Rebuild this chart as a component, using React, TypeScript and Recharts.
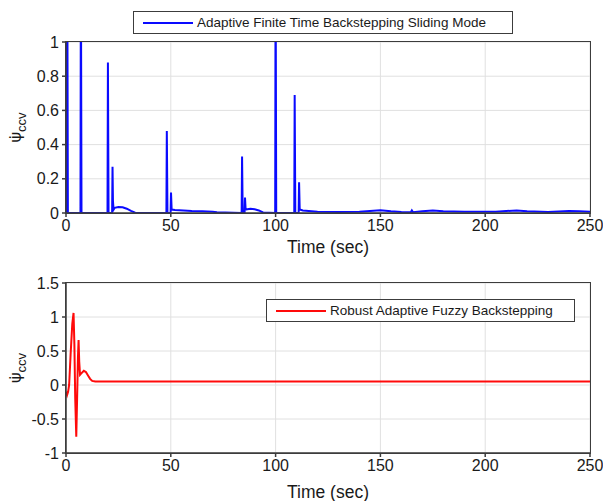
import React from 'react';
import { LineChart, Line, XAxis, YAxis, CartesianGrid, Legend } from 'recharts';

// time (sec) and psi_ccv samples
const afTime = [
  0, 0.6, 0.9, 6.9, 7.1, 7.4, 19.8, 20.0, 20.3, 22.0, 22.2, 22.4, 22.7, 23.2, 25, 27, 29, 31, 33,
  47.9, 48.1, 48.4, 49.9, 50.1, 50.4, 52, 56, 60, 65, 70, 72,
  83.8, 84.0, 84.3, 85.2, 85.4, 85.7, 86.5, 88, 90, 92, 94,
  99.8, 100.0, 100.3, 108.9, 109.1, 109.4, 111.0, 111.2, 111.5, 113, 120, 130, 140, 145, 150, 155,
  160, 164.5, 165, 165.5, 170, 175, 180, 190, 200, 205, 210, 215, 220, 230, 240, 245, 250,
];
const afValue = [
  0, 1.5, 0, 0, 1.5, 0, 0, 0.88, 0, 0, 0.27, 0.07, 0.02, 0.03, 0.035, 0.033, 0.025, 0.012, 0.002,
  0, 0.48, 0, 0, 0.12, 0.02, 0.018, 0.015, 0.012, 0.01, 0.007, 0.004,
  0, 0.33, 0, 0, 0.09, 0.02, 0.022, 0.025, 0.022, 0.015, 0.003,
  0, 1.5, 0, 0, 0.69, 0, 0, 0.18, 0.02, 0.015, 0.008, 0.006, 0.008, 0.012, 0.016, 0.01,
  0.006, 0.004, 0.015, 0.005, 0.01, 0.014, 0.01, 0.007, 0.008, 0.007, 0.012, 0.014, 0.01, 0.006, 0.012, 0.01, 0.008,
];

const rfTime = [0, 0.5, 1, 1.5, 2.2, 3.0, 3.6, 4.0, 4.4, 4.9, 5.3, 5.7, 6.0, 6.3, 6.7, 7.3, 8.5, 9.5, 10.5, 11.5, 12.5, 14, 16, 250];
const rfValue = [-0.1, -0.15, -0.1, 0.0, 0.45, 0.9, 1.06, 0.6, -0.2, -0.76, -0.2, 0.4, 0.66, 0.35, 0.15, 0.17, 0.21, 0.19, 0.14, 0.09, 0.06, 0.05, 0.05, 0.05];

const timeTicks = [0, 50, 100, 150, 200, 250];
const topTicks = [0, 0.2, 0.4, 0.6, 0.8, 1];
const bottomTicks = [-1, -0.5, 0, 0.5, 1, 1.5];

const topName = 'Adaptive Finite Time Backstepping Sliding Mode';
const bottomName = 'Robust Adaptive Fuzzy Backstepping';

const font = '"Liberation Sans", Arial, sans-serif';
const frame = '#3c3c3c';
const gridColor = '#e0e0e0';
const tickStyle = { fontSize: 16, fill: '#1a1a1a', fontFamily: font };

const CHART_W = 603;
const M_LEFT = 26;
const Y_W = 40;
const M_RIGHT = 13;

const afData = afTime.map((t, i) => ({ t, v: afValue[i] }));
const rfData = rfTime.map((t, i) => ({ t, v: rfValue[i] }));

const fmt = (v: number) => String(v);

const YLabel = ({ cx, cy }: { cx: number; cy: number }) => (
  <text
    x={cx}
    y={cy}
    transform={`rotate(-90, ${cx}, ${cy})`}
    textAnchor="middle"
    fontFamily='"DejaVu Sans", sans-serif'
    fill="#1a1a1a"
    fontSize={16}
  >
    {'\u03C8\u0307'}
    <tspan dy={5} fontSize={13} fontFamily={font}>ccv</tspan>
  </text>
);

const LegendBox = ({ color, name, width }: { color: string; name: string; width: number }) => (
  <div
    style={{
      width,
      height: 23,
      boxSizing: 'border-box',
      border: `1px solid ${frame}`,
      background: '#fff',
      display: 'flex',
      alignItems: 'center',
      fontFamily: font,
      fontSize: 13.5,
      color: '#1a1a1a',
      whiteSpace: 'nowrap',
    }}
  >
    <span style={{ display: 'inline-block', width: 50, height: 2, background: color, marginLeft: 9, marginRight: 4 }} />
    {name}
  </div>
);

interface PanelProps {
  data: { t: number; v: number }[];
  color: string;
  name: string;
  yDomain: [number, number];
  yTicks: number[];
  height: number;
  marginTop: number;
  xHeight: number;
  labelOffset: number;
  legendPos: { left: number; top: number; width: number };
}

const Panel = ({ data, color, name, yDomain, yTicks, height, marginTop, xHeight, labelOffset, legendPos }: PanelProps) => {
  const plotH = height - marginTop - xHeight;
  const plotMid = marginTop + plotH / 2;
  const plotL = M_LEFT + Y_W;
  const plotW = CHART_W - M_RIGHT - plotL;
  return (
    <div style={{ position: 'relative', width: CHART_W, height }}>
      <LineChart width={CHART_W} height={height} data={data} margin={{ top: marginTop, right: M_RIGHT, bottom: 0, left: M_LEFT }}>
        <CartesianGrid stroke={gridColor} />
        <XAxis
          dataKey="t"
          type="number"
          domain={[0, 250]}
          ticks={timeTicks}
          tickFormatter={fmt}
          height={xHeight}
          stroke={frame}
          strokeWidth={1.5}
          tickSize={4}
          tickMargin={3}
          tick={tickStyle}
          label={{ value: 'Time (sec)', position: 'insideBottom', offset: labelOffset, fontSize: 17.5, fill: '#1a1a1a', fontFamily: font }}
        />
        <YAxis
          type="number"
          domain={yDomain}
          ticks={yTicks}
          allowDataOverflow
          tickFormatter={fmt}
          width={Y_W}
          stroke={frame}
          strokeWidth={1.5}
          tickSize={4}
          tickMargin={3}
          tick={tickStyle}
          label={{ content: () => <YLabel cx={21} cy={plotMid} /> }}
        />
        <Legend
          layout="horizontal"
          verticalAlign="middle"
          align="center"
          wrapperStyle={{ position: 'absolute', left: legendPos.left, top: legendPos.top, width: legendPos.width }}
          content={() => <LegendBox color={color} name={name} width={legendPos.width} />}
        />
        <Line
          type="linear"
          dataKey="v"
          name={name}
          stroke={color}
          strokeWidth={2}
          dot={false}
          isAnimationActive={false}
        />
      </LineChart>
      {/* axes box around the plot area */}
      <div
        style={{
          position: 'absolute',
          left: plotL - 0.75,
          top: marginTop - 0.75,
          width: plotW + 1.5,
          height: plotH + 1.5,
          boxSizing: 'border-box',
          border: `1.5px solid ${frame}`,
          pointerEvents: 'none',
        }}
      />
    </div>
  );
};

export default function App() {
  return (
    <div style={{ position: 'absolute', left: 0, top: 0, width: 603, height: 501, background: '#fff' }}>
      <div style={{ position: 'absolute', left: 0, top: 0 }}>
        <Panel
          data={afData}
          color="#0a0aff"
          name={topName}
          yDomain={[0, 1]}
          yTicks={topTicks}
          height={262}
          marginTop={42}
          xHeight={49}
          labelOffset={9}
          legendPos={{ left: 133, top: 11, width: 380 }}
        />
      </div>
      <div style={{ position: 'absolute', left: 0, top: 262 }}>
        <Panel
          data={rfData}
          color="#ff0a0a"
          name={bottomName}
          yDomain={[-1, 1.5]}
          yTicks={bottomTicks}
          height={239}
          marginTop={21}
          xHeight={48}
          labelOffset={3}
          legendPos={{ left: 266, top: 37, width: 309 }}
        />
      </div>
    </div>
  );
}
